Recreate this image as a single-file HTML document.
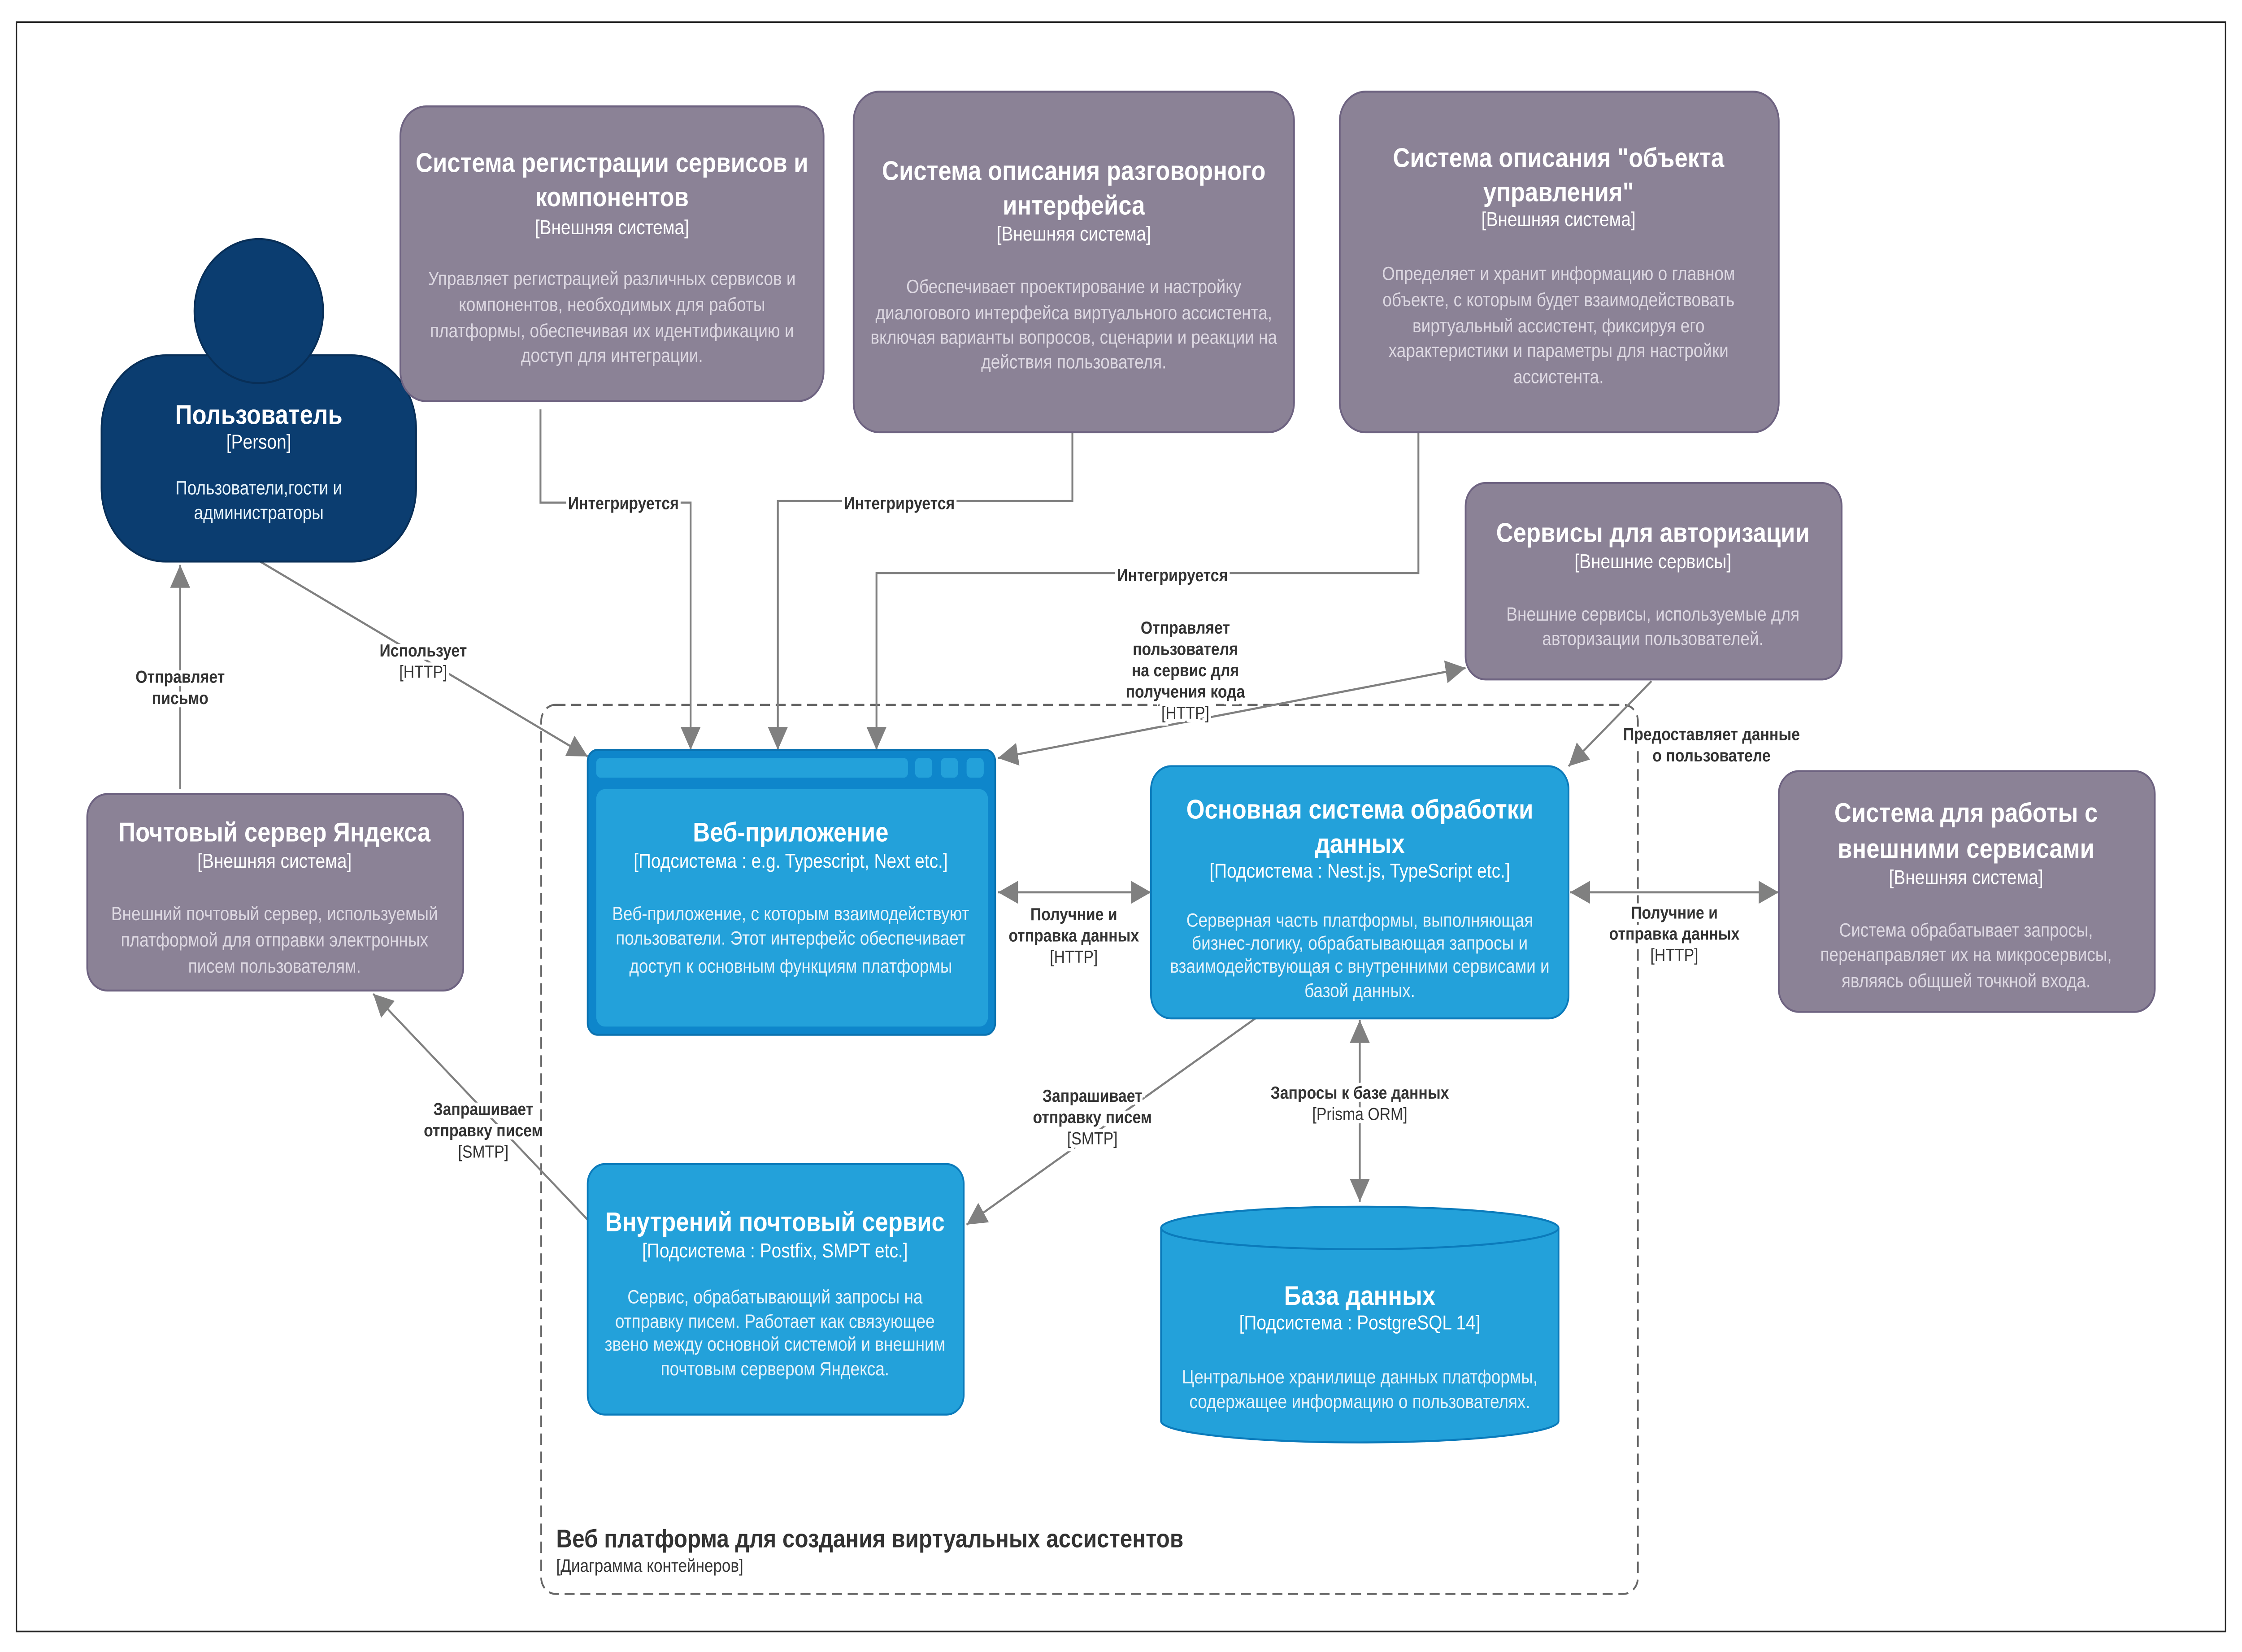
<!DOCTYPE html>
<html><head><meta charset="utf-8"><style>
html,body{margin:0;padding:0;background:#fff;width:100vw;height:100vh;overflow:hidden;}
svg{display:block;width:100vw;height:100vh;}
text{font-family:"Liberation Sans",Arial,sans-serif;}
.t{fill:#fff;font-weight:bold;font-size:16.5px;text-anchor:middle;}
.k{fill:#fff;font-size:12.2px;text-anchor:middle;}
.d{fill:#ddd8e2;font-size:11.6px;text-anchor:middle;}
.db{fill:#e6f3fb;font-size:11.6px;text-anchor:middle;}
.lb{fill:#333;font-size:10.6px;font-weight:bold;text-anchor:middle;stroke:#fff;stroke-width:4px;paint-order:stroke;}
.lt{fill:#333;font-size:10.6px;text-anchor:middle;stroke:#fff;stroke-width:4px;paint-order:stroke;}
.ln{stroke:#808080;stroke-width:1.3;fill:none;}
.ext{fill:#8b8296;stroke:#6e6381;stroke-width:1.2;}
.con{fill:#23a1da;stroke:#0b7bbb;stroke-width:1.2;}
</style></head><body>
<svg viewBox="0 0 1568 1009" preserveAspectRatio="none" xmlns="http://www.w3.org/2000/svg">
<defs>
<marker id="a" viewBox="0 0 10 10" refX="10" refY="5" markerWidth="14" markerHeight="14" markerUnits="userSpaceOnUse" orient="auto-start-reverse"><path d="M0,0 L10,5 L0,10 z" fill="#808080"/></marker>
</defs>
<rect x="0" y="0" width="1568" height="1009" fill="#fff"/>
<rect x="11.5" y="13.5" width="1545" height="983" fill="none" stroke="#222" stroke-width="1"/>

<rect x="378.5" y="430.5" width="767" height="543" rx="10" fill="none" stroke="#666" stroke-width="1.2" stroke-dasharray="7,4"/>
<text x="389" y="945" style="font-size:15.5px;font-weight:bold;fill:#333">Веб платформа для создания виртуальных ассистентов</text>
<text x="389" y="960" style="font-size:11px;fill:#333">[Диаграмма контейнеров]</text>

<polyline class="ln" points="378,250 378,307 483,307 483,458" marker-end="url(#a)"/>
<polyline class="ln" points="750,264 750,306 544,306 544,458" marker-end="url(#a)"/>
<polyline class="ln" points="992,264 992,350 613,350 613,458" marker-end="url(#a)"/>
<line class="ln" x1="182" y1="343" x2="411" y2="462" marker-end="url(#a)"/>
<line class="ln" x1="126" y1="482" x2="126" y2="345" marker-end="url(#a)"/>
<line class="ln" x1="698" y1="463" x2="1025" y2="408" marker-start="url(#a)" marker-end="url(#a)"/>
<line class="ln" x1="1155" y1="416" x2="1097" y2="468" marker-end="url(#a)"/>
<line class="ln" x1="698" y1="545" x2="805" y2="545" marker-start="url(#a)" marker-end="url(#a)"/>
<line class="ln" x1="1098" y1="545" x2="1244" y2="545" marker-start="url(#a)" marker-end="url(#a)"/>
<line class="ln" x1="878" y1="622" x2="676" y2="748" marker-end="url(#a)"/>
<line class="ln" x1="951" y1="623" x2="951" y2="734" marker-start="url(#a)" marker-end="url(#a)"/>
<line class="ln" x1="411" y1="745" x2="261" y2="607" marker-end="url(#a)"/>

<text class="lb" x="436" y="311">Интегрируется</text>
<text class="lb" x="629" y="311">Интегрируется</text>
<text class="lb" x="820" y="355">Интегрируется</text>
<text class="lb" x="296" y="401">Использует</text>
<text class="lt" x="296" y="414">[HTTP]</text>
<text class="lb" x="126" y="417">Отправляет</text>
<text class="lb" x="126" y="430">письмо</text>
<text class="lb" x="829" y="387">Отправляет</text>
<text class="lb" x="829" y="400">пользователя</text>
<text class="lb" x="829" y="413">на сервис для</text>
<text class="lb" x="829" y="426">получения кода</text>
<text class="lt" x="829" y="439">[HTTP]</text>
<text class="lb" x="1197" y="452">Предоставляет данные</text>
<text class="lb" x="1197" y="465">о пользователе</text>
<text class="lb" x="751" y="562">Получние и</text>
<text class="lb" x="751" y="575">отправка данных</text>
<text class="lt" x="751" y="588">[HTTP]</text>
<text class="lb" x="1171" y="561">Получние и</text>
<text class="lb" x="1171" y="574">отправка данных</text>
<text class="lt" x="1171" y="587">[HTTP]</text>
<text class="lb" x="764" y="673">Запрашивает</text>
<text class="lb" x="764" y="686">отправку писем</text>
<text class="lt" x="764" y="699">[SMTP]</text>
<text class="lb" x="951" y="671">Запросы к базе данных</text>
<text class="lt" x="951" y="684">[Prisma ORM]</text>
<text class="lb" x="338" y="681">Запрашивает</text>
<text class="lb" x="338" y="694">отправку писем</text>
<text class="lt" x="338" y="707">[SMTP]</text>

<rect x="71" y="217" width="220" height="126" rx="45" fill="#0b3d70" stroke="#082f58" stroke-width="1.2"/>
<ellipse cx="181" cy="190" rx="45" ry="44" fill="#0b3d70" stroke="#082f58" stroke-width="1.2"/>
<text class="t" x="181" y="259">Пользователь</text>
<text class="k" x="181" y="274">[Person]</text>
<text class="db" x="181" y="302">Пользователи,гости и</text>
<text class="db" x="181" y="317">администраторы</text>

<rect class="ext" x="280" y="65" width="296" height="180" rx="18"/>
<text class="t" x="428" y="105">Система регистрации сервисов и</text>
<text class="t" x="428" y="126">компонентов</text>
<text class="k" x="428" y="143">[Внешняя система]</text>
<text class="d" x="428" y="174">Управляет регистрацией различных сервисов и</text>
<text class="d" x="428" y="190">компонентов, необходимых для работы</text>
<text class="d" x="428" y="206">платформы, обеспечивая их идентификацию и</text>
<text class="d" x="428" y="221">доступ для интеграции.</text>

<rect class="ext" x="597" y="56" width="308" height="208" rx="18"/>
<text class="t" x="751" y="110">Система описания разговорного</text>
<text class="t" x="751" y="131">интерфейса</text>
<text class="k" x="751" y="147">[Внешняя система]</text>
<text class="d" x="751" y="179">Обеспечивает проектирование и настройку</text>
<text class="d" x="751" y="195">диалогового интерфейса виртуального ассистента,</text>
<text class="d" x="751" y="210">включая варианты вопросов, сценарии и реакции на</text>
<text class="d" x="751" y="225">действия пользователя.</text>

<rect class="ext" x="937" y="56" width="307" height="208" rx="18"/>
<text class="t" x="1090" y="102">Система описания "объекта</text>
<text class="t" x="1090" y="123">управления"</text>
<text class="k" x="1090" y="138">[Внешняя система]</text>
<text class="d" x="1090" y="171">Определяет и хранит информацию о главном</text>
<text class="d" x="1090" y="187">объекте, с которым будет взаимодействовать</text>
<text class="d" x="1090" y="203">виртуальный ассистент, фиксируя его</text>
<text class="d" x="1090" y="218">характеристики и параметры для настройки</text>
<text class="d" x="1090" y="234">ассистента.</text>

<rect class="ext" x="1025" y="295" width="263" height="120" rx="14"/>
<text class="t" x="1156" y="331">Сервисы для авторизации</text>
<text class="k" x="1156" y="347">[Внешние сервисы]</text>
<text class="d" x="1156" y="379">Внешние сервисы, используемые для</text>
<text class="d" x="1156" y="394">авторизации пользователей.</text>

<rect class="ext" x="61" y="485" width="263" height="120" rx="14"/>
<text class="t" x="192" y="514">Почтовый сервер Яндекса</text>
<text class="k" x="192" y="530">[Внешняя система]</text>
<text class="d" x="192" y="562">Внешний почтовый сервер, используемый</text>
<text class="d" x="192" y="578">платформой для отправки электронных</text>
<text class="d" x="192" y="594">писем пользователям.</text>

<rect class="ext" x="1244" y="471" width="263" height="147" rx="14"/>
<text class="t" x="1375" y="502">Система для работы с</text>
<text class="t" x="1375" y="524">внешними сервисами</text>
<text class="k" x="1375" y="540">[Внешняя система]</text>
<text class="d" x="1375" y="572">Система обрабатывает запросы,</text>
<text class="d" x="1375" y="587">перенаправляет их на микросервисы,</text>
<text class="d" x="1375" y="603">являясь общшей точкной входа.</text>

<rect x="411" y="458" width="285" height="174" rx="7" fill="#0e86cb" stroke="#0b72b0" stroke-width="1.2"/>
<rect x="417" y="463" width="218" height="12" rx="3" fill="#23a1da"/>
<rect x="640" y="463" width="12" height="12" rx="3" fill="#23a1da"/>
<rect x="658" y="463" width="12" height="12" rx="3" fill="#23a1da"/>
<rect x="676" y="463" width="12" height="12" rx="3" fill="#23a1da"/>
<rect x="417" y="482" width="274" height="145" rx="6" fill="#23a1da"/>
<text class="t" x="553" y="514">Веб-приложение</text>
<text class="k" x="553" y="530">[Подсистема : e.g. Typescript, Next etc.]</text>
<text class="db" x="553" y="562">Веб-приложение, с которым взаимодействуют</text>
<text class="db" x="553" y="577">пользователи. Этот интерфейс обеспечивает</text>
<text class="db" x="553" y="594">доступ к основным функциям платформы</text>

<rect class="con" x="805" y="468" width="292" height="154" rx="14"/>
<text class="t" x="951" y="500">Основная система обработки</text>
<text class="t" x="951" y="521">данных</text>
<text class="k" x="951" y="536">[Подсистема : Nest.js, TypeScript etc.]</text>
<text class="db" x="951" y="566">Серверная часть платформы, выполняющая</text>
<text class="db" x="951" y="580">бизнес-логику, обрабатывающая запросы и</text>
<text class="db" x="951" y="594">взаимодействующая с внутренними сервисами и</text>
<text class="db" x="951" y="609">базой данных.</text>

<rect class="con" x="411" y="711" width="263" height="153" rx="12"/>
<text class="t" x="542" y="752">Внутрений почтовый сервис</text>
<text class="k" x="542" y="768">[Подсистема : Postfix, SMPT etc.]</text>
<text class="db" x="542" y="796">Сервис, обрабатывающий запросы на</text>
<text class="db" x="542" y="811">отправку писем. Работает как связующее</text>
<text class="db" x="542" y="825">звено между основной системой и внешним</text>
<text class="db" x="542" y="840">почтовым сервером Яндекса.</text>

<path d="M812,750 L812,868 A139,13 0 0 0 1090,868 L1090,750 A139,13 0 0 0 812,750 Z" fill="#23a1da" stroke="#0b7bbb" stroke-width="1.2"/>
<path d="M812,750 A139,13 0 0 0 1090,750" fill="none" stroke="#0b7bbb" stroke-width="1.2"/>
<text class="t" x="951" y="797">База данных</text>
<text class="k" x="951" y="812">[Подсистема : PostgreSQL 14]</text>
<text class="db" x="951" y="845">Центральное хранилище данных платформы,</text>
<text class="db" x="951" y="860">содержащее информацию о пользователях.</text>
</svg>
</body></html>
